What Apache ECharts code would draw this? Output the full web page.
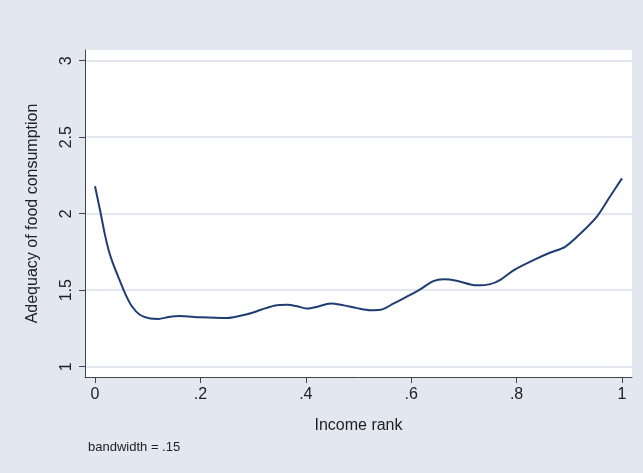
<!DOCTYPE html>
<html>
<head>
<meta charset="utf-8">
<script src="https://cdn.jsdelivr.net/npm/echarts@6/dist/echarts.min.js"></script>
<style>
  html, body { margin: 0; padding: 0; background: #E2E7F0; }
  #chart { width: 643px; height: 473px; }
</style>
</head>
<body>
<div id="chart"></div>
<script>
// lowess curve
const incomeRank = [0, 0.0095, 0.019, 0.026, 0.033, 0.044, 0.057, 0.07, 0.085, 0.105, 0.12, 0.14, 0.16, 0.2, 0.25, 0.29, 0.315, 0.34, 0.365, 0.385, 0.403, 0.42, 0.447, 0.472, 0.497, 0.522, 0.542, 0.566, 0.591, 0.617, 0.642, 0.662, 0.686, 0.724, 0.75, 0.77, 0.795, 0.832, 0.863, 0.892, 0.92, 0.952, 0.977, 1.0]
const adequacy = [2.18, 2.024, 1.86, 1.76, 1.685, 1.588, 1.48, 1.395, 1.34, 1.315, 1.312, 1.325, 1.332, 1.323, 1.318, 1.345, 1.372, 1.399, 1.405, 1.394, 1.38, 1.39, 1.414, 1.401, 1.383, 1.369, 1.372, 1.412, 1.457, 1.506, 1.56, 1.571, 1.562, 1.532, 1.54, 1.57, 1.632, 1.697, 1.745, 1.784, 1.867, 1.98, 2.111, 2.231]
const xTicks = [0, 0.2, 0.4, 0.6, 0.8, 1]
const yTicks = [1, 1.5, 2, 2.5, 3]

const font = "'Liberation Sans', Arial, sans-serif"
const stataNum = v => (v > 0 && v < 1) ? String(+v.toFixed(2)).replace('0.', '.') : String(+v.toFixed(2))

const chart = echarts.init(document.getElementById('chart'))
chart.setOption({
  backgroundColor: '#E2E7F0',
  animation: false,
  title: {
    text: 'bandwidth = .15',
    left: 88,
    top: 441,
    padding: 0,
    textStyle: { fontFamily: font, fontSize: 13, fontWeight: 'normal', color: '#222' }
  },
  grid: {
    left: 85,
    right: 11,
    top: 50,
    bottom: 96,
    show: true,
    backgroundColor: '#fff',
    borderWidth: 0
  },
  xAxis: {
    type: 'value',
    min: -0.019,
    max: 1.019,
    name: 'Income rank',
    nameLocation: 'middle',
    nameGap: 41,
    nameTextStyle: { fontFamily: font, fontSize: 16, color: '#222' },
    axisLine: { show: true, onZero: false, lineStyle: { color: '#444', width: 1 } },
    axisTick: { show: true, length: 6, customValues: xTicks, lineStyle: { color: '#444' } },
    axisLabel: {
      customValues: xTicks,
      margin: 10,
      fontFamily: font, fontSize: 16, color: '#222',
      formatter: stataNum
    },
    splitLine: { show: false }
  },
  yAxis: {
    type: 'value',
    min: 0.933,
    max: 3.07,
    name: 'Adequacy of food consumption',
    nameLocation: 'middle',
    nameGap: 44,
    nameTextStyle: { fontFamily: font, fontSize: 16, color: '#222' },
    axisLine: { show: true, onZero: false, lineStyle: { color: '#444', width: 1 } },
    axisTick: { show: true, length: 6, customValues: yTicks, lineStyle: { color: '#444' } },
    axisLabel: {
      customValues: yTicks,
      rotate: 90,
      margin: 10,
      fontFamily: font, fontSize: 16, color: '#222',
      formatter: stataNum
    },
    splitLine: { show: true, lineStyle: { color: '#E1E6F0', width: 2 } }
  },
  series: [{
    type: 'line',
    data: incomeRank.map((x, i) => [x, adequacy[i]]),
    showSymbol: false,
    smooth: 0.3,
    lineStyle: { color: '#1F3D73', width: 2 },
    itemStyle: { color: '#1F3D73' }
  }]
})
</script>
</body>
</html>
